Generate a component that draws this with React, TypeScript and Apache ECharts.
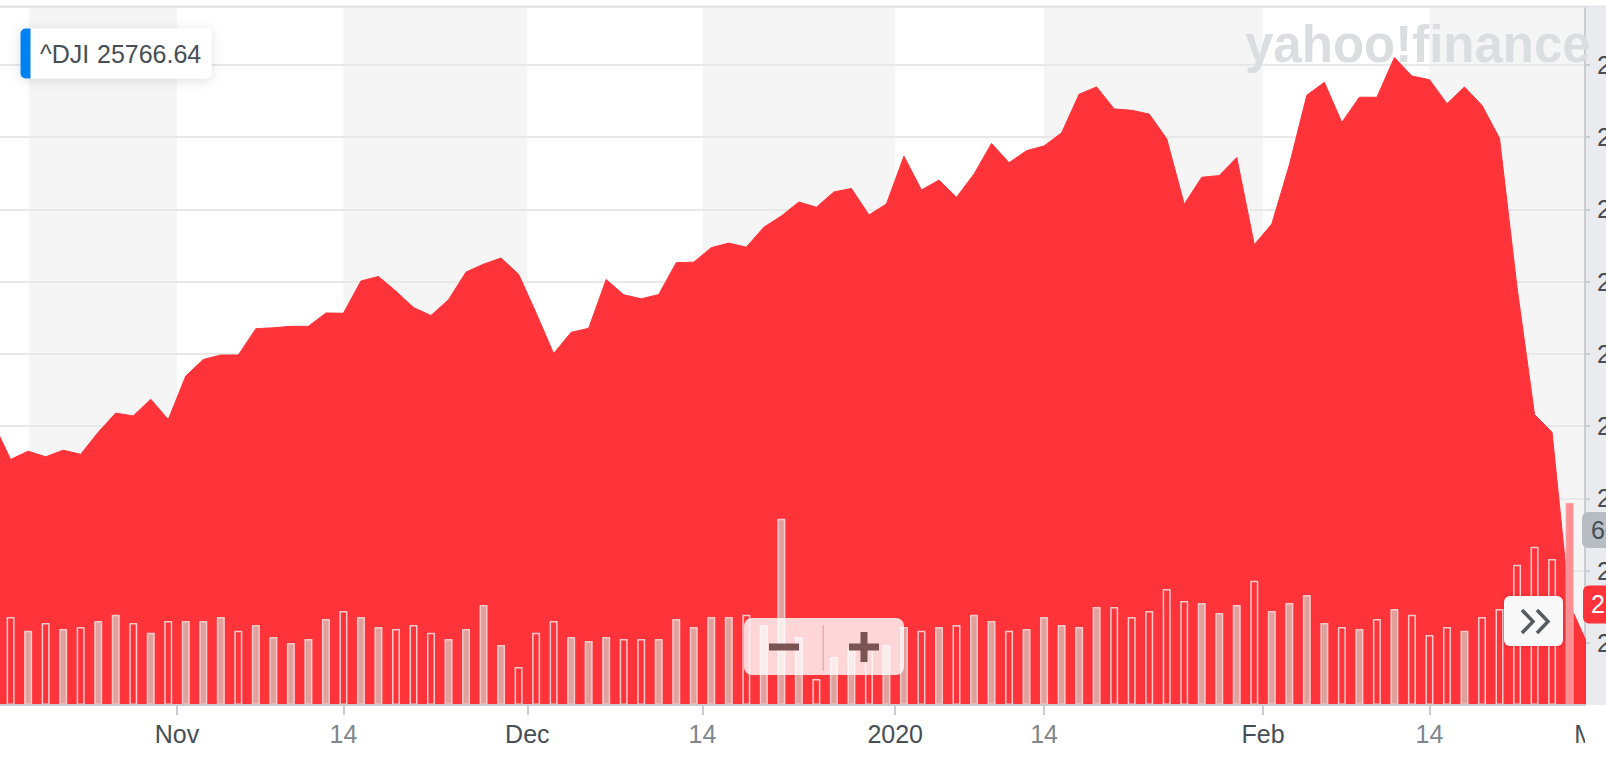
import React, { useEffect, useRef } from 'react';
import * as echarts from 'echarts';

// ---- data: ^DJI daily, 17 Oct 2019 .. 28 Feb 2020 (trading days) ----
const dates = [
  '2019-10-17', '2019-10-18', '2019-10-21', '2019-10-22', '2019-10-23', '2019-10-24', '2019-10-25', '2019-10-28', '2019-10-29', '2019-10-30', '2019-10-31',
  '2019-11-01', '2019-11-04', '2019-11-05', '2019-11-06', '2019-11-07', '2019-11-08', '2019-11-11', '2019-11-12', '2019-11-13', '2019-11-14',
  '2019-11-15', '2019-11-18', '2019-11-19', '2019-11-20', '2019-11-21', '2019-11-22', '2019-11-25', '2019-11-26', '2019-11-27', '2019-11-29',
  '2019-12-02', '2019-12-03', '2019-12-04', '2019-12-05', '2019-12-06', '2019-12-09', '2019-12-10', '2019-12-11', '2019-12-12', '2019-12-13',
  '2019-12-16', '2019-12-17', '2019-12-18', '2019-12-19', '2019-12-20', '2019-12-23', '2019-12-24', '2019-12-26', '2019-12-27', '2019-12-30', '2019-12-31',
  '2020-01-02', '2020-01-03', '2020-01-06', '2020-01-07', '2020-01-08', '2020-01-09', '2020-01-10', '2020-01-13', '2020-01-14', '2020-01-15',
  '2020-01-16', '2020-01-17', '2020-01-21', '2020-01-22', '2020-01-23', '2020-01-24', '2020-01-27', '2020-01-28', '2020-01-29', '2020-01-30', '2020-01-31',
  '2020-02-03', '2020-02-04', '2020-02-05', '2020-02-06', '2020-02-07', '2020-02-10', '2020-02-11', '2020-02-12', '2020-02-13', '2020-02-14',
  '2020-02-18', '2020-02-19', '2020-02-20', '2020-02-21', '2020-02-24', '2020-02-25', '2020-02-26', '2020-02-27', '2020-02-28',
];

const closes = [
  27025.88, 26770.2, 26827.64, 26788.1, 26833.95, 26805.53, 26958.06, 27090.72, 27071.46, 27186.69, 27046.23,
  27347.36, 27462.11, 27492.63, 27492.56, 27674.8, 27681.24, 27691.49, 27691.49, 27783.59, 27781.96,
  28004.89, 28036.22, 27934.02, 27821.09, 27766.29, 27875.62, 28066.47, 28121.68, 28164.0, 28051.41,
  27783.04, 27502.81, 27649.78, 27677.79, 28015.06, 27909.6, 27881.72, 27911.3, 28132.05, 28135.38,
  28235.89, 28267.16, 28239.28, 28376.96, 28455.09, 28551.53, 28515.45, 28621.39, 28645.26, 28462.14, 28538.44,
  28868.8, 28634.88, 28703.38, 28583.68, 28745.09, 28956.9, 28823.77, 28907.05, 28939.67, 29030.22,
  29297.64, 29348.1, 29196.04, 29186.27, 29160.09, 28989.73, 28535.8, 28722.85, 28734.45, 28859.44, 28256.03,
  28399.81, 28807.63, 29290.85, 29379.77, 29102.51, 29276.82, 29276.34, 29551.42, 29423.31, 29398.08,
  29232.19, 29348.03, 29219.98, 28992.41, 27960.8, 27081.36, 26957.59, 25766.64, 25500.0,
];

// volume, millions of shares
const volumes: (number | null)[] = [
  275, 303, 255, 282, 261, 268, 289, 310, 282, 248,
  289, 289, 289, 303, 255, 275, 234, 213, 227, 296,
  323, 303, 268, 261, 275, 248, 227, 261, 344, 206,
  131, 248, 289, 234, 220, 234, 227, 227, 227, 296,
  268, 303, 303, 310, 275, 640, 234, 89, 165, 193,
  200, 206, 268, 255, 268, 275, 310, 289, 255, 261,
  303, 275, 268, 337, 337, 303, 323, 399, 358, 351,
  316, 344, 427, 323, 351, 378, 282, 268, 261, 296,
  330, 310, 241, 268, 255, 303, 330, 482, 544, 502,
  695, null,
];

const quoteSymbol = '^DJI';
const quoteValue = 25766.64;
const latestVolume = 601.97;
const highlightIdx = 90;

// x ticks, in trading-day index units
const tickPos = [10.5, 20, 30.5, 40.5, 51.5, 60, 72.5, 82];
const tickLabels = ['Nov', '14', 'Dec', '14', '2020', '14', 'Feb', '14'];
const nextTickPos = 91.5;
const nextTickLabel = 'Mar';

// alternating shaded periods
const bands: [number, number][] = [[2.05, 10.5], [20, 30.5], [40.5, 51.5], [60, 72.5], [82, 90.88]];

const xMin = 0.394;
const xMax = 90.88;
const priceMin = 25071;
const priceMax = 29901;
const volMax = 2400;

const W = 1606;
const H = 758;
const FONT = '"Liberation Sans", Arial, sans-serif';
const RED = '#ff333a';
const TEXT = '#464e56';

const fmt = (v: number) =>
  v.toLocaleString('en-US', { minimumFractionDigits: 2, maximumFractionDigits: 2 });

const GRID = { left: 0, right: 21, top: 7, bottom: 53 };

function buildOption(): any {
  const up = closes.map((c, i) => i === 0 || c >= closes[i - 1]);
  const barData = volumes.map((v, i) => {
    let itemStyle: any;
    if (i === highlightIdx) itemStyle = { color: '#ff8d91', borderColor: '#ffa3a6', borderWidth: 1 };
    else if (up[i]) itemStyle = { color: '#e0a09c', borderColor: '#f7c9ca', borderWidth: 1.5 };
    else itemStyle = { color: 'rgba(0,0,0,0)', borderColor: '#f7c9ca', borderWidth: 1.5 };
    return { value: [i, v], itemStyle };
  });

  return {
    animation: false,
    backgroundColor: 'transparent',
    grid: { ...GRID, containLabel: false, outerBoundsMode: 'none' },
    xAxis: {
      type: 'value',
      min: xMin,
      max: xMax,
      z: 5,
      splitLine: { show: false },
      axisLine: { show: true, lineStyle: { color: '#c9cdd2', width: 2 } },
      axisTick: { show: true, customValues: tickPos, length: 10, lineStyle: { color: '#c9cdd2', width: 2 } },
      axisLabel: {
        customValues: tickPos,
        margin: 16,
        fontSize: 25,
        fontFamily: FONT,
        formatter: (v: number) => {
          let k = 0;
          tickPos.forEach((p, i) => { if (Math.abs(p - v) < Math.abs(tickPos[k] - v)) k = i; });
          const t = tickLabels[k];
          return /^\d{1,2}$/.test(t) ? `{d|${t}}` : `{m|${t}}`;
        },
        rich: {
          m: { color: TEXT, fontSize: 25, fontFamily: FONT },
          d: { color: '#80868d', fontSize: 25, fontFamily: FONT },
        },
      },
    },
    yAxis: [
      {
        type: 'value',
        position: 'right',
        min: priceMin,
        max: priceMax,
        splitNumber: 10,
        z: 1.5,
        axisLine: { show: true, lineStyle: { color: '#c9cdd2', width: 2 } },
        axisTick: { show: true, length: 5, lineStyle: { color: '#c9cdd2', width: 2 } },
        splitLine: { show: true, lineStyle: { color: '#e8e8e8', width: 2 } },
        axisLabel: {
          showMinLabel: false,
          showMaxLabel: false,
          margin: 12,
          color: TEXT,
          fontSize: 25,
          fontFamily: FONT,
          formatter: (v: number) => fmt(v),
        },
      },
      { type: 'value', min: 0, max: volMax, show: false },
    ],
    series: [
      {
        name: quoteSymbol,
        type: 'line',
        z: 3,
        data: closes.map((c, i) => [i, c]),
        symbol: 'none',
        lineStyle: { color: RED, width: 1 },
        areaStyle: { color: RED, opacity: 1, origin: 'start' },
        markArea: {
          silent: true,
          itemStyle: { color: '#f5f5f5' },
          data: bands.map(([a, b]) => [{ xAxis: a }, { xAxis: b }]),
        },
      },
      {
        name: 'Volume',
        type: 'bar',
        z: 4,
        yAxisIndex: 1,
        barWidth: 8,
        data: barData,
      },
    ],
  };
}

function buildGraphic(chart: echarts.ECharts): any[] {
  const plotRight = W - GRID.right;
  const plotBottom = chart.convertToPixel({ yAxisIndex: 0 }, priceMin) as number;
  const plotTop = GRID.top;
  const yQuote = chart.convertToPixel({ yAxisIndex: 0 }, quoteValue) as number;
  const yVol = chart.convertToPixel({ yAxisIndex: 1 }, latestVolume) as number;
  const xNext = chart.convertToPixel({ xAxisIndex: 0 }, nextTickPos) as number;

  return [
    // right axis panel
    { type: 'rect', id: 'panel', z: 0, silent: true,
      shape: { x: plotRight, y: plotTop, width: W - plotRight, height: plotBottom - plotTop },
      style: { fill: '#eaebee' } },
    // watermark
    { type: 'text', id: 'wm', z: 1.7, silent: true,
      style: { text: 'yahoo!finance', x: 1245, y: 44, fill: '#dcdde1', fontSize: 51, fontWeight: 'bold',
        fontFamily: FONT, verticalAlign: 'middle', align: 'left' } },
    // top border
    { type: 'rect', id: 'topline', z: 20, silent: true,
      shape: { x: 0, y: 5.5, width: W, height: 2 }, style: { fill: '#e2e5e9' } },
    // next month label, clipped at the plot edge
    { type: 'text', id: 'nextTick', z: 19, silent: true,
      style: { text: nextTickLabel, x: xNext, y: plotBottom + 16, fill: TEXT, fontSize: 25, fontFamily: FONT,
        align: 'center', verticalAlign: 'top' } },
    { type: 'rect', id: 'mask', z: 20, silent: true,
      shape: { x: plotRight, y: plotBottom + 2, width: W - plotRight, height: H - plotBottom },
      style: { fill: '#ffffff' } },
    // symbol box
    { type: 'group', id: 'quoteBox', z: 20, children: [
      { type: 'rect', z: 20, shape: { x: 20.5, y: 28.5, width: 191, height: 50, r: 5 },
        style: { fill: '#ffffff', shadowBlur: 12, shadowColor: 'rgba(0,0,0,0.13)', shadowOffsetY: 2 } },
      { type: 'rect', z: 21, shape: { x: 20.5, y: 28.5, width: 10, height: 50, r: [5, 0, 0, 5] },
        style: { fill: '#0081f2' } },
      { type: 'text', z: 21, style: { text: quoteSymbol, x: 40, y: 54, fill: TEXT, fontSize: 25,
        fontFamily: FONT, verticalAlign: 'middle' } },
      { type: 'text', z: 21, style: { text: String(quoteValue), x: 97, y: 54, fill: TEXT, fontSize: 25,
        fontFamily: FONT, verticalAlign: 'middle' } },
    ] },
    // zoom control
    { type: 'group', id: 'zoomCtl', z: 20, children: [
      { type: 'rect', z: 20, shape: { x: 744, y: 618, width: 160, height: 57, r: 8 },
        style: { fill: 'rgba(255,255,255,0.8)' } },
      { type: 'rect', z: 21, shape: { x: 769, y: 643.5, width: 30, height: 7 }, style: { fill: '#7a5353' } },
      { type: 'rect', z: 21, shape: { x: 822.5, y: 625, width: 1.5, height: 46 }, style: { fill: 'rgba(170,90,90,0.3)' } },
      { type: 'rect', z: 21, shape: { x: 849, y: 643.5, width: 30, height: 7 }, style: { fill: '#7a5353' } },
      { type: 'rect', z: 21, shape: { x: 860.5, y: 632, width: 7, height: 30 }, style: { fill: '#7a5353' } },
    ] },
    // scroll-forward button
    { type: 'group', id: 'fwdBtn', z: 20, children: [
      { type: 'rect', z: 20, shape: { x: 1504, y: 596, width: 59, height: 50, r: 6 },
        style: { fill: '#f8f8f8', shadowBlur: 4, shadowColor: 'rgba(0,0,0,0.15)' } },
      { type: 'polyline', z: 21, shape: { points: [[1522, 610], [1533, 621.5], [1522, 633]] },
        style: { stroke: '#555b61', lineWidth: 3.5, fill: 'none' } },
      { type: 'polyline', z: 21, shape: { points: [[1537, 610], [1548, 621.5], [1537, 633]] },
        style: { stroke: '#555b61', lineWidth: 3.5, fill: 'none' } },
    ] },
    // latest volume tag
    { type: 'group', id: 'volTag', z: 22, children: [
      { type: 'rect', z: 22, shape: { x: plotRight - 3, y: yVol - 18, width: 40, height: 36, r: 6 },
        style: { fill: '#b8bdc3' } },
      { type: 'text', z: 23, style: { text: `${fmt(latestVolume)}M`, x: plotRight + 6, y: yVol, fill: TEXT,
        fontSize: 25, fontFamily: FONT, verticalAlign: 'middle' } },
    ] },
    // latest price tag
    { type: 'group', id: 'priceTag', z: 22, children: [
      { type: 'rect', z: 22, shape: { x: plotRight - 2, y: yQuote - 19, width: 40, height: 38, r: 6 },
        style: { fill: RED } },
      { type: 'text', z: 23, style: { text: fmt(quoteValue), x: plotRight + 6, y: yQuote, fill: '#ffffff',
        fontSize: 25, fontFamily: FONT, verticalAlign: 'middle' } },
    ] },
  ];
}

export default function App() {
  const chartRef = useRef<HTMLDivElement>(null);

  useEffect(() => {
    if (!chartRef.current) return;
    const chart = echarts.init(chartRef.current, null, { renderer: 'svg' });
    chart.setOption(buildOption());
    chart.setOption({ graphic: buildGraphic(chart) });
    return () => {
      chart.dispose();
    };
  }, []);

  return (
    <div
      ref={chartRef}
      data-dates={dates.length}
      style={{ position: 'absolute', left: 0, top: 0, width: W, height: H, background: '#ffffff', overflow: 'hidden' }}
    />
  );
}
